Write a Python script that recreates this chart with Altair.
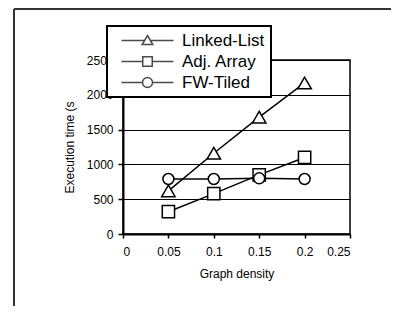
import altair as alt
import pandas as pd

# ---- data ----
density = [0.05, 0.1, 0.15, 0.2]
linked_list = [620, 1160, 1680, 2170]
adj_array = [320, 580, 850, 1100]
fw_tiled = [790, 790, 800, 790]
series_names = ["Linked-List", "Adj. Array", "FW-Tiled"]
x_ticks = [0, 0.05, 0.1, 0.15, 0.2, 0.25]
y_ticks = [0, 500, 1000, 1500, 2000, 2500]

rows = []
for name, vals in zip(series_names, [linked_list, adj_array, fw_tiled]):
    for d, v in zip(density, vals):
        rows.append({"density": d, "time": v, "series": name, "marker": name})
df = pd.DataFrame(rows)

FONT = "Liberation Sans"

x_enc = alt.X(
    "density:Q",
    scale=alt.Scale(domain=[0, 0.25], nice=False, zero=False),
    axis=alt.Axis(
        values=x_ticks, tickCount=20, format="~g", grid=False, title="Graph density",
        domainColor="black", domainWidth=2, tickColor="black", tickSize=4,
        tickWidth=1.5, labelPadding=8, titlePadding=11, labelOverlap=False,
    ),
)
y_enc = alt.Y(
    "time:Q",
    scale=alt.Scale(domain=[0, 2500], nice=False),
    axis=alt.Axis(
        values=y_ticks, tickCount=20, format="d", grid=True, gridColor="black",
        gridWidth=1, title="Execution time (s", domainColor="black",
        domainWidth=2, tickColor="black", tickSize=5, tickWidth=1.5,
        labelPadding=5, titlePadding=10, labelOverlap=False,
    ),
)

lines = alt.Chart(df).mark_line(color="black", strokeWidth=1.5).encode(
    x=x_enc, y=y_enc, detail="series:N"
)

markers = alt.Chart(df).mark_point(
    filled=True, fill="white", stroke="black", strokeWidth=1.5, opacity=1
).encode(
    x="density:Q",
    y="time:Q",
    shape=alt.Shape("marker:N", scale=alt.Scale(domain=series_names,
                    range=["triangle-up", "square", "circle"]), legend=None),
    size=alt.Size("marker:N", scale=alt.Scale(domain=series_names,
                  range=[180, 121, 100]), legend=None),
)

# legend symbols: a line with the marker in its middle (units of 5px)
legend_paths = [
    "M-1,0H3.61M4.79,0H9.4M4.2,-1L5.26,0.8L3.14,0.8Z",
    "M-1,0H3.25M5.15,0H9.4M3.25,-0.95H5.15V0.95H3.25Z",
    "M-1,0H3.2M5.2,0H9.4M3.2,0A1,1 0 1,0 5.2,0A1,1 0 1,0 3.2,0Z",
]

legend_layer = alt.Chart(df).transform_filter("false").mark_point(
    filled=False, color="black", strokeWidth=1.5
).encode(
    x="density:Q",
    y="time:Q",
    shape=alt.Shape(
        "series:N",
        scale=alt.Scale(domain=series_names, range=legend_paths),
        legend=alt.Legend(
            title=None, orient="none", legendX=-16, legendY=-34,
            fillColor="white", strokeColor="black",
            padding=6, symbolOffset=5, labelOffset=47, rowPadding=3,
            symbolSize=100, symbolStrokeWidth=1.5, symbolStrokeColor="black",
            symbolFillColor="white", labelFont=FONT, labelFontSize=17,
            labelColor="black", labelLimit=300,
        ),
    ),
)

frame_df = pd.DataFrame({"k": [0]})
frame_left = alt.Chart(frame_df).mark_rule(color="#333333", strokeWidth=2).encode(
    x=alt.value(-109), y=alt.value(-51), y2=alt.value(300)
)
frame_top = alt.Chart(frame_df).mark_rule(color="#333333", strokeWidth=2).encode(
    x=alt.value(-109), x2=alt.value(300), y=alt.value(-51)
)

chart = alt.layer(lines, markers, legend_layer, frame_left, frame_top).resolve_scale(
    shape="independent"
).properties(
    width=227, height=174,
    padding={"left": 115, "top": 52, "right": 41, "bottom": 72},
    autosize=alt.AutoSizeParams(type="none"),
    background="white",
).configure_view(
    stroke="black", strokeWidth=1.5
).configure_axis(
    labelFont=FONT, titleFont=FONT, labelFontSize=12, titleFontSize=12,
    labelColor="black", titleColor="black", titleFontWeight="normal",
).configure_legend(
    strokeWidth=2
)

chart.save("out.html", embed_options={"renderer": "svg", "actions": False})
